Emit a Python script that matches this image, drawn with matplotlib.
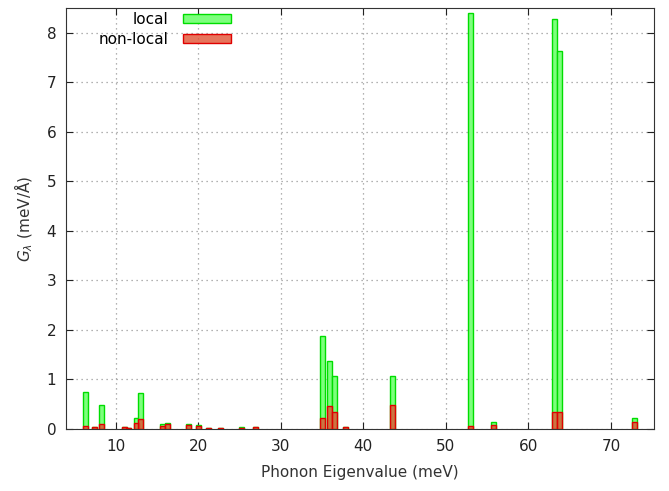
import matplotlib
matplotlib.use("Agg")
from matplotlib import pyplot as plt

# phonon eigenvalues (meV) and coupling for each mode
energy = [6.4, 7.45, 8.35, 11.1, 11.6, 12.5, 13.0, 15.7, 16.3, 18.85, 20.0,
          21.2, 22.7, 25.2, 27.0, 35.1, 35.85, 36.5, 37.8, 43.5, 53.0, 55.8,
          63.1, 63.7, 72.8]
local = [0.74, 0.04, 0.48, 0.04, 0.02, 0.23, 0.73, 0.10, 0.13, 0.10, 0.09,
         0.02, 0.02, 0.04, 0.04, 1.87, 1.38, 1.08, 0.05, 1.07, 8.40, 0.15,
         8.27, 7.63, 0.23]
nonlocal_ = [0.06, 0.04, 0.10, 0.04, 0.02, 0.13, 0.21, 0.06, 0.10, 0.08, 0.06,
             0.02, 0.02, 0.02, 0.04, 0.23, 0.46, 0.34, 0.04, 0.48, 0.06, 0.09,
             0.34, 0.34, 0.15]

fig = plt.figure(figsize=(6.69, 4.91), dpi=100)
ax = fig.add_axes([66 / 669, 62 / 491, 588 / 669, 421 / 491])

ax.bar(energy, local, width=0.6, color="#7dff7d", edgecolor="#00dd00",
       linewidth=1, label="local", zorder=2)
ax.bar(energy, nonlocal_, width=0.6, color=(0.88, 0.32, 0.2, 0.8),
       edgecolor="#e00000", linewidth=1, label="non-local", zorder=3)

ax.set_xlim(4, 75.2)
ax.set_ylim(0, 8.5)
ax.set_xticks(range(10, 71, 10))
ax.set_yticks(range(0, 9))

ax.grid(True, linestyle=(0, (1, 3)), color="#999999", linewidth=0.9, zorder=0)
ax.tick_params(direction="in", top=True, right=True, length=5,
               labelsize=11, colors="#222222", pad=7)
for s in ax.spines.values():
    s.set_color("#333333")

ax.set_xlabel("Phonon Eigenvalue (meV)", fontsize=11, color="#333333", labelpad=8)
ax.set_ylabel(r"$G_\lambda$ (meV/Å)", fontsize=11, color="#333333", labelpad=8)

leg = ax.legend(loc="upper right", bbox_to_anchor=(0.28, 0.99), frameon=False,
                markerfirst=False, fontsize=11, handlelength=3.1,
                handleheight=0.55, labelspacing=0.3, borderpad=0,
                borderaxespad=0, handletextpad=1.0)
for t in leg.get_texts():
    t.set_ha("right")

plt.savefig("out.png")
